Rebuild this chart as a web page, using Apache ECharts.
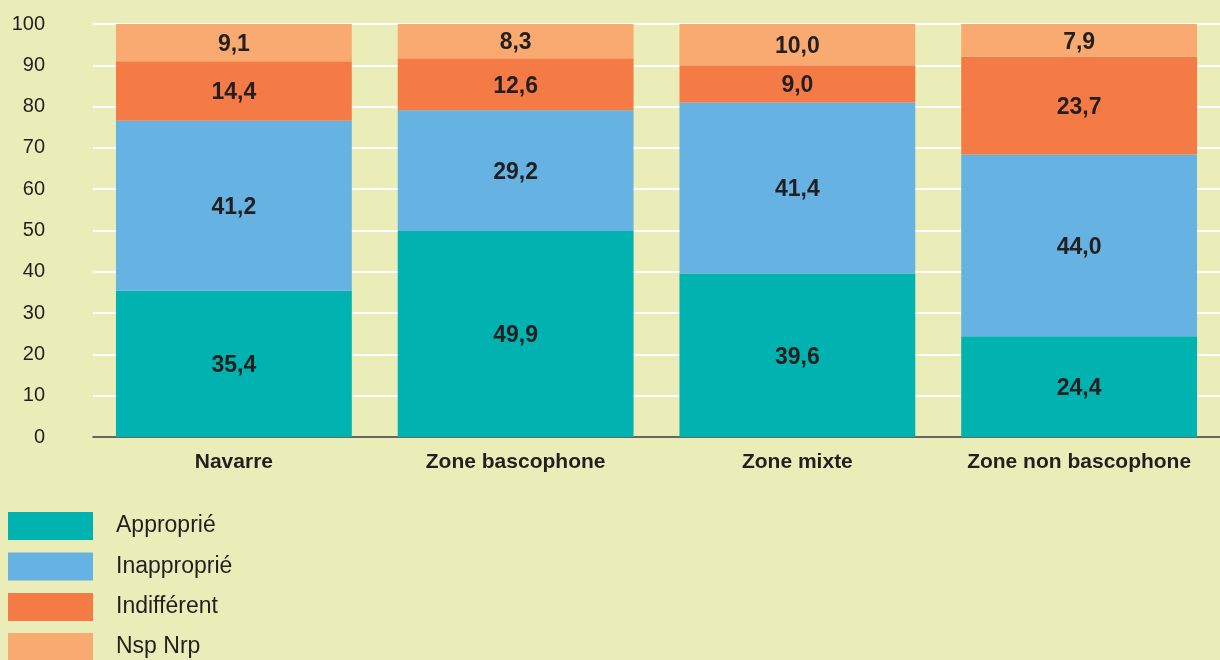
<!DOCTYPE html>
<html><head><meta charset="utf-8">
<script src="https://cdn.jsdelivr.net/npm/echarts@6/dist/echarts.min.js"></script>
<style>html,body{margin:0;padding:0;background:#EAEDB8;}#c{width:1220px;height:660px;}</style>
</head><body><div id="c"></div>
<script>
const categories = ['Navarre', 'Zone bascophone', 'Zone mixte', 'Zone non bascophone'];
const seriesNames = ['Approprié', 'Inapproprié', 'Indifférent', 'Nsp Nrp'];
const approprie = [35.4, 49.9, 39.6, 24.4];
const inapproprie = [41.2, 29.2, 41.4, 44.0];
const indifferent = [14.4, 12.6, 9.0, 23.7];
const nspNrp = [9.1, 8.3, 10.0, 7.9];
const colors = ['#00B2B0', '#66B2E2', '#F47B45', '#F9AA70'];
const values = [approprie, inapproprie, indifferent, nspNrp];
const font = 'Liberation Sans, Arial, sans-serif';

const legendBase = {
  orient: 'vertical', left: 8, padding: 0,
  itemWidth: 85, itemHeight: 28, itemGap: 12.5,
  icon: 'rect',
  textStyle: { fontSize: 23, color: '#231F20', fontFamily: font, padding: [4, 0, 0, 18] }
};

const chart = echarts.init(document.getElementById('c'));
chart.setOption({
  backgroundColor: '#EAEDB8',
  animation: false,
  textStyle: { fontFamily: font },
  grid: { left: 93, right: -5, top: 24, bottom: 223, containLabel: false },
  legend: [
    Object.assign({}, legendBase, { top: 512, data: seriesNames.slice(0, 3) }),
    Object.assign({}, legendBase, { top: 633, data: seriesNames.slice(3) })
  ],
  xAxis: {
    type: 'category', data: categories,
    axisLine: { lineStyle: { color: '#3A3530', width: 1.5 } },
    axisTick: { show: false },
    axisLabel: { interval: 0, fontSize: 21, fontWeight: 'bold', color: '#231F20', margin: 15, fontFamily: font }
  },
  yAxis: {
    type: 'value', min: 0, max: 100, interval: 10,
    axisLine: { show: false }, axisTick: { show: false },
    splitLine: { lineStyle: { color: '#FFFFFF', width: 2 } },
    axisLabel: { fontSize: 20, color: '#231F20', margin: 48, fontFamily: font }
  },
  series: seriesNames.map((n, i) => ({
    name: n, type: 'bar', stack: 'total', barWidth: '83.7%',
    itemStyle: { color: colors[i] },
    label: {
      show: true, position: 'inside', offset: [0, 2], fontSize: 23, fontWeight: 'bold', color: '#231F20', fontFamily: font,
      formatter: p => p.value.toFixed(1).replace('.', ',')
    },
    data: values[i]
  }))
});
</script></body></html>
